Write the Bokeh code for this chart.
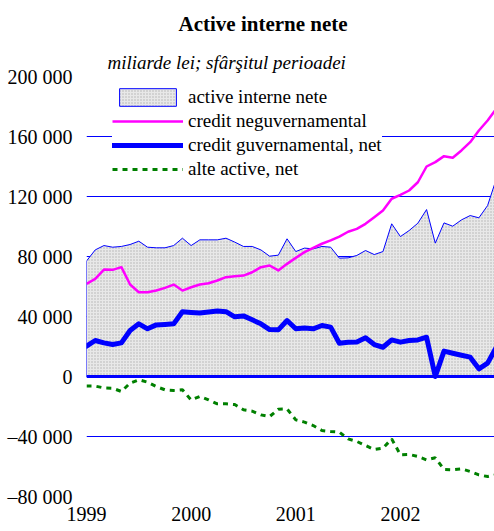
from bokeh.plotting import figure
from bokeh.models import Title, FixedTicker, Legend, LegendItem, Range1d
from bokeh.embed import file_html
from bokeh.resources import INLINE

# ---- data (end of month, Jan 1999 .. Dec 2002), miliarde lei ----
months = list(range(48))
year_ticks = [0, 12, 24, 36]
year_labels = ["1999", "2000", "2001", "2002"]
y_ticks = [-80000, -40000, 0, 40000, 80000, 120000, 160000, 200000]
y_labels = ["\u201380 000", "\u201340 000", "0", "40 000", "80 000",
            "120 000", "160 000", "200 000"]

active_interne_nete = [77000, 84400, 87300, 86200, 86700, 88000, 90200, 86200,
                       85800, 85800, 87300, 92200, 87300, 91100, 91100, 91100,
                       92200, 89600, 86700, 86700, 84400, 80200, 80900, 91800,
                       83300, 85600, 85100, 86700, 86200, 78900, 79100, 80700,
                       84000, 81300, 83300, 101800, 93300, 97300, 102200, 111300,
                       88900, 102400, 100200, 104400, 107300, 105800, 114000, 131800]
credit_neguvernamental = [61800, 65100, 71300, 71100, 72900, 61300, 56200, 56200,
                          57300, 59100, 61300, 57300, 59500, 61300, 62200, 64000,
                          66200, 66900, 67300, 69500, 72900, 74000, 70700, 75100,
                          79100, 82900, 85800, 88500, 90700, 93300, 96500, 98400,
                          101800, 106200, 110700, 118500, 121100, 124000, 129500, 140000,
                          142900, 146900, 145800, 150700, 156200, 164000, 170700, 178500]
credit_guvernamental = [20200, 24000, 22400, 21300, 22400, 30700, 35100, 31800,
                        34400, 34700, 35100, 43200, 42700, 42300, 43000, 43700,
                        43200, 39800, 40400, 37800, 35100, 31300, 31100, 37300,
                        31800, 32400, 31800, 34000, 32900, 22200, 22900, 23000,
                        25800, 21300, 19500, 24400, 22900, 24000, 24400, 26200,
                        0, 16900, 15500, 14200, 12900, 5100, 8900, 19500]
alte_active = [-6400, -6400, -7600, -7800, -10000, -4400, -2200, -3800,
               -6700, -8900, -9300, -8900, -15600, -13300, -15600, -18200,
               -18200, -18700, -22200, -23100, -25600, -26700, -21800, -21600,
               -28900, -30400, -32700, -36000, -36700, -37100, -41600, -43300,
               -46000, -48700, -47800, -41600, -52200, -52000, -53300, -55600,
               -54200, -62000, -62200, -61600, -63300, -65600, -66700, -65500]

series_names = ["active interne nete", "credit neguvernamental",
                "credit guvernamental, net", "alte active, net"]

FONT = "Liberation Serif"
BLUE = "#0000ff"

p = figure(width=494, height=531, output_backend="svg", toolbar_location=None,
           title=None,
           x_range=Range1d(0, 46.79), y_range=Range1d(-80000, 200000),
           min_border_left=86, min_border_right=0, min_border_top=0,
           min_border_bottom=35)
p.outline_line_color = None
p.background_fill_color = "white"
p.border_fill_color = "white"

# area of net domestic assets
area_x = months + months[::-1]
area_y = active_interne_nete + [0] * len(months)
r_area = p.patch(area_x, area_y, fill_color="#e8e8e8", line_color=BLUE,
                 line_width=1, hatch_pattern="dot", hatch_color="#b0b0b0",
                 hatch_scale=3, hatch_weight=1)
# base of the area (zero line)
p.line(months, [0] * len(months), line_color=BLUE, line_width=3)

r_alte = p.line(months, alte_active, line_color="#008000", line_width=3,
                line_dash="5 5")
r_neg = p.line(months, credit_neguvernamental, line_color="#ff00ff",
               line_width=2.5, line_join="round")
r_guv = p.line(months, credit_guvernamental, line_color=BLUE,
               line_width=5, line_join="round", line_cap="round")

# axes
p.xaxis.ticker = FixedTicker(ticks=year_ticks)
p.xaxis.major_label_overrides = dict(zip(year_ticks, year_labels))
p.yaxis.ticker = FixedTicker(ticks=y_ticks)
p.yaxis.major_label_overrides = dict(zip(y_ticks, y_labels))
for ax in (p.xaxis[0], p.yaxis[0]):
    ax.axis_line_color = None
    ax.major_tick_line_color = None
    ax.minor_tick_line_color = None
    ax.major_tick_out = 0
    ax.major_tick_in = 0
    ax.minor_tick_out = 0
    ax.minor_tick_in = 0
    ax.major_label_text_font = FONT
    ax.major_label_text_font_size = "20px"
    ax.major_label_text_color = "black"
p.xaxis.major_label_standoff = 10
p.yaxis.major_label_standoff = 14

p.xgrid.visible = False
p.ygrid.grid_line_color = BLUE
p.ygrid.grid_line_width = 1
p.ygrid.grid_line_alpha = 1.0

# titles
sub = Title(text="miliarde lei; sf\u00e2r\u015fitul perioadei", align="left",
            offset=21, text_font=FONT, text_font_size="19px",
            text_font_style="italic", text_color="black", standoff=8)
p.add_layout(sub, "above")
main = Title(text="Active interne nete", align="left", offset=92,
             text_font=FONT, text_font_size="21px", text_font_style="bold",
             text_color="black", standoff=19)
p.add_layout(main, "above")

legend = Legend(items=[LegendItem(label=series_names[0], renderers=[r_area]),
                       LegendItem(label=series_names[1], renderers=[r_neg]),
                       LegendItem(label=series_names[2], renderers=[r_guv]),
                       LegendItem(label=series_names[3], renderers=[r_alte])],
                location=(26, 316), background_fill_color="white",
                background_fill_alpha=1.0, border_line_color=None,
                label_text_font=FONT, label_text_font_size="19px",
                label_text_color="black", glyph_width=71, glyph_height=22,
                label_height=22, label_standoff=5, spacing=2, padding=6,
                margin=0)
p.add_layout(legend)

open("out.html", "w").write(file_html(p, INLINE))
